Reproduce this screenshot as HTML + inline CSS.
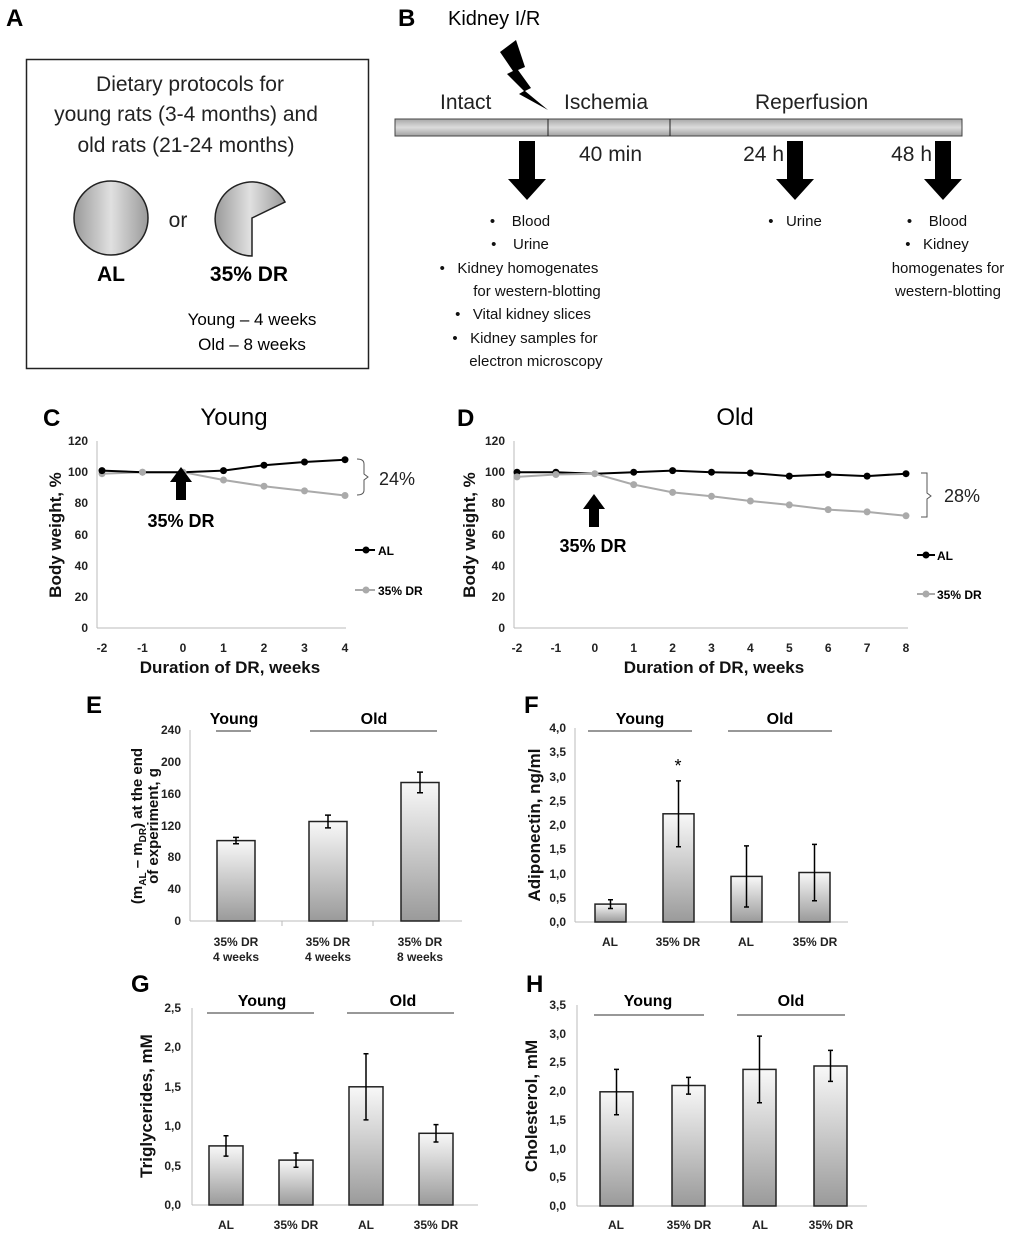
<!DOCTYPE html>
<html><head><meta charset="utf-8"><style>
html,body{margin:0;padding:0;background:#fff;}
svg{display:block;font-family:"Liberation Sans",sans-serif;}
.tk{font-size:12px;font-weight:bold;fill:#222;}
.ax{font-size:17px;font-weight:bold;fill:#111;}
.pl{font-size:24px;font-weight:bold;}
.gl{font-size:16px;font-weight:bold;}
.bl{font-size:15px;fill:#111;}
</style></head><body>
<svg width="1020" height="1235" viewBox="0 0 1020 1235" xmlns="http://www.w3.org/2000/svg">
<defs>
<linearGradient id="bar" x1="0" y1="0" x2="0" y2="1"><stop offset="0" stop-color="#f8f8f8"/><stop offset="1" stop-color="#9a9a9a"/></linearGradient>
<linearGradient id="tl" x1="0" y1="0" x2="0" y2="1"><stop offset="0" stop-color="#a8a8a8"/><stop offset="0.5" stop-color="#dcdcdc"/><stop offset="1" stop-color="#a0a0a0"/></linearGradient>
<linearGradient id="disc" x1="0" y1="0" x2="1" y2="0"><stop offset="0" stop-color="#9a9a9a"/><stop offset="0.5" stop-color="#e0e0e0"/><stop offset="1" stop-color="#9a9a9a"/></linearGradient>
</defs>

<!-- A -->
<text x="6" y="26" class="pl">A</text>
<rect x="26.5" y="59.5" width="342" height="309" fill="none" stroke="#222" stroke-width="1.5"/>
<g font-size="21" text-anchor="middle" fill="#222">
<text x="190" y="91">Dietary protocols for</text>
<text x="186" y="121">young rats (3-4 months) and</text>
<text x="186" y="152">old rats (21-24 months)</text>
<text x="178" y="227">or</text>
</g>
<circle cx="111" cy="218" r="37" fill="url(#disc)" stroke="#222" stroke-width="1.5"/>
<path d="M252,218 L285,202 A37,37 0 1,0 252,256 Z" fill="url(#disc)" stroke="#222" stroke-width="1.5"/>
<text x="111" y="281" text-anchor="middle" font-size="21" font-weight="bold">AL</text>
<text x="249" y="281" text-anchor="middle" font-size="21" font-weight="bold">35% DR</text>
<text x="252" y="325" text-anchor="middle" font-size="17">Young – 4 weeks</text>
<text x="252" y="350" text-anchor="middle" font-size="17">Old – 8 weeks</text>

<!-- B -->
<text x="398" y="26" class="pl">B</text>
<text x="448" y="25" font-size="20">Kidney I/R</text>
<polygon points="500,52 516,40 525,67 518,70 531,88 525,91 548,110 519,94 524,91 507,74 513,71" fill="#000"/>
<g font-size="21" fill="#222">
<text x="440" y="109">Intact</text>
<text x="564" y="109">Ischemia</text>
<text x="755" y="109">Reperfusion</text>
<text x="579" y="161">40 min</text>
<text x="784" y="161" text-anchor="end">24 h</text>
<text x="932" y="161" text-anchor="end">48 h</text>
</g>
<rect x="395" y="119" width="567" height="17" fill="url(#tl)" stroke="#444"/>
<line x1="548" y1="119" x2="548" y2="136" stroke="#222"/>
<line x1="670" y1="119" x2="670" y2="136" stroke="#222"/>
<g fill="#000">
<polygon points="519,141 535,141 535,179 546,179 527,200 508,179 519,179"/>
<polygon points="787,141 803,141 803,179 814,179 795,200 776,179 787,179"/>
<polygon points="935,141 951,141 951,179 962,179 943,200 924,179 935,179"/>
</g>
<g class="bl" text-anchor="middle">
<text x="520" y="226">•&#160;&#160;&#160;&#160;Blood</text>
<text x="520" y="249">•&#160;&#160;&#160;&#160;Urine</text>
<text x="519" y="273">•&#160;&#160;&#160;Kidney homogenates</text>
<text x="537" y="296">for western-blotting</text>
<text x="523" y="319">•&#160;&#160;&#160;Vital kidney slices</text>
<text x="525" y="343">•&#160;&#160;&#160;Kidney samples for</text>
<text x="536" y="366">electron microscopy</text>
<text x="795" y="226">•&#160;&#160;&#160;Urine</text>
<text x="937" y="226">•&#160;&#160;&#160;&#160;Blood</text>
<text x="937" y="249">•&#160;&#160;&#160;Kidney</text>
<text x="948" y="273">homogenates for</text>
<text x="948" y="296">western-blotting</text>
</g>

<!-- C -->
<text x="43" y="426" class="pl">C</text>
<text x="234" y="425" text-anchor="middle" font-size="24">Young</text>
<g stroke="#bbb" stroke-width="1">
<line x1="97" y1="441" x2="97" y2="628"/><line x1="97" y1="628" x2="346" y2="628"/>
</g>
<g class="tk" text-anchor="end">
<text x="88" y="632">0</text><text x="88" y="601">20</text><text x="88" y="570">40</text><text x="88" y="539">60</text><text x="88" y="507">80</text><text x="88" y="476">100</text><text x="88" y="445">120</text>
</g>
<g class="tk" text-anchor="middle">
<text x="102" y="652">-2</text><text x="142.5" y="652">-1</text><text x="183" y="652">0</text><text x="223.5" y="652">1</text><text x="264" y="652">2</text><text x="304.5" y="652">3</text><text x="345" y="652">4</text>
</g>
<text x="230" y="673" text-anchor="middle" class="ax">Duration of DR, weeks</text>
<text transform="translate(61,535) rotate(-90)" text-anchor="middle" class="ax">Body weight, %</text>
<polyline points="102,473.7 142.5,472.2 183,472.2 223.5,480 264,486.2 304.5,490.9 345,495.5" fill="none" stroke="#aaa" stroke-width="2"/>
<g fill="#aaa"><circle cx="102" cy="473.7" r="3.5"/><circle cx="142.5" cy="472.2" r="3.5"/><circle cx="223.5" cy="480" r="3.5"/><circle cx="264" cy="486.2" r="3.5"/><circle cx="304.5" cy="490.9" r="3.5"/><circle cx="345" cy="495.5" r="3.5"/></g>
<polyline points="102,470.6 142.5,472.2 183,472.2 223.5,470.6 264,465.2 304.5,462 345,459.7" fill="none" stroke="#000" stroke-width="2"/>
<g fill="#000"><circle cx="102" cy="470.6" r="3.5"/><circle cx="223.5" cy="470.6" r="3.5"/><circle cx="264" cy="465.2" r="3.5"/><circle cx="304.5" cy="462" r="3.5"/><circle cx="345" cy="459.7" r="3.5"/></g>
<circle cx="183" cy="472.2" r="3.5" fill="#aaa"/><circle cx="142.5" cy="472.2" r="3.5" fill="#aaa"/>
<polygon points="176,500 186,500 186,482 192,482 181,467 170,482 176,482" fill="#000"/>
<text x="181" y="527" text-anchor="middle" font-size="18" font-weight="bold">35% DR</text>
<line x1="355" y1="550" x2="375" y2="550" stroke="#000" stroke-width="2"/><circle cx="366" cy="550" r="3.5"/>
<text x="378" y="555" font-size="12" font-weight="bold">AL</text>
<line x1="355" y1="590" x2="375" y2="590" stroke="#aaa" stroke-width="2"/><circle cx="366" cy="590" r="3.5" fill="#aaa"/>
<text x="378" y="595" font-size="12" font-weight="bold">35% DR</text>
<path d="M357,459 Q364,459 364,464 L364,474 L368,477 L364,480 L364,490 Q364,495 357,495" fill="none" stroke="#555" stroke-width="1"/>
<text x="379" y="485" font-size="18" fill="#222">24%</text>

<!-- D -->
<text x="457" y="426" class="pl">D</text>
<text x="735" y="425" text-anchor="middle" font-size="24">Old</text>
<g stroke="#bbb"><line x1="514" y1="441" x2="514" y2="628"/><line x1="514" y1="628" x2="908" y2="628"/></g>
<g class="tk" text-anchor="end">
<text x="505" y="632">0</text><text x="505" y="601">20</text><text x="505" y="570">40</text><text x="505" y="539">60</text><text x="505" y="507">80</text><text x="505" y="476">100</text><text x="505" y="445">120</text>
</g>
<g class="tk" text-anchor="middle">
<text x="517" y="652">-2</text><text x="555.9" y="652">-1</text><text x="594.8" y="652">0</text><text x="633.7" y="652">1</text><text x="672.6" y="652">2</text><text x="711.5" y="652">3</text><text x="750.4" y="652">4</text><text x="789.3" y="652">5</text><text x="828.2" y="652">6</text><text x="867.1" y="652">7</text><text x="906" y="652">8</text>
</g>
<text x="714" y="673" text-anchor="middle" class="ax">Duration of DR, weeks</text>
<text transform="translate(475,535) rotate(-90)" text-anchor="middle" class="ax">Body weight, %</text>
<polyline points="517,472.2 555.9,472.2 594.8,473.7 633.7,472.2 672.6,470.6 711.5,472.2 750.4,473 789.3,476.1 828.2,474.5 867.1,476.1 906,473.7" fill="none" stroke="#000" stroke-width="2"/>
<g><circle cx="517" cy="472.2" r="3.5"/><circle cx="555.9" cy="472.2" r="3.5"/><circle cx="633.7" cy="472.2" r="3.5"/><circle cx="672.6" cy="470.6" r="3.5"/><circle cx="711.5" cy="472.2" r="3.5"/><circle cx="750.4" cy="473" r="3.5"/><circle cx="789.3" cy="476.1" r="3.5"/><circle cx="828.2" cy="474.5" r="3.5"/><circle cx="867.1" cy="476.1" r="3.5"/><circle cx="906" cy="473.7" r="3.5"/></g>
<polyline points="517,476.9 555.9,474.5 594.8,473.7 633.7,484.6 672.6,492.4 711.5,496.3 750.4,501 789.3,504.9 828.2,509.6 867.1,511.9 906,515.8" fill="none" stroke="#aaa" stroke-width="2"/>
<g fill="#aaa"><circle cx="517" cy="476.9" r="3.5"/><circle cx="555.9" cy="474.5" r="3.5"/><circle cx="594.8" cy="473.7" r="3.5"/><circle cx="633.7" cy="484.6" r="3.5"/><circle cx="672.6" cy="492.4" r="3.5"/><circle cx="711.5" cy="496.3" r="3.5"/><circle cx="750.4" cy="501" r="3.5"/><circle cx="789.3" cy="504.9" r="3.5"/><circle cx="828.2" cy="509.6" r="3.5"/><circle cx="867.1" cy="511.9" r="3.5"/><circle cx="906" cy="515.8" r="3.5"/></g>
<polygon points="589,527 599,527 599,509 605,509 594,494 583,509 589,509" fill="#000"/>
<text x="593" y="552" text-anchor="middle" font-size="18" font-weight="bold">35% DR</text>
<line x1="917" y1="555" x2="935" y2="555" stroke="#000" stroke-width="2"/><circle cx="926" cy="555" r="3.5"/>
<text x="937" y="560" font-size="12" font-weight="bold">AL</text>
<line x1="917" y1="594" x2="935" y2="594" stroke="#aaa" stroke-width="2"/><circle cx="926" cy="594" r="3.5" fill="#aaa"/>
<text x="937" y="599" font-size="12" font-weight="bold">35% DR</text>
<path d="M921,473 L927,473 L927,493 L931,496 L927,499 L927,517 L921,517" fill="none" stroke="#555"/>
<text x="944" y="502" font-size="18" fill="#222">28%</text>

<!-- E -->
<text x="86" y="713" class="pl">E</text>
<g stroke="#bbb"><line x1="190" y1="730" x2="190" y2="921"/><line x1="190" y1="921" x2="462" y2="921"/><line x1="282" y1="921" x2="282" y2="926"/><line x1="373" y1="921" x2="373" y2="926"/></g>
<g class="tk" text-anchor="end">
<text x="181" y="925">0</text><text x="181" y="893">40</text><text x="181" y="861">80</text><text x="181" y="830">120</text><text x="181" y="798">160</text><text x="181" y="766">200</text><text x="181" y="734">240</text>
</g>
<text x="234" y="724" text-anchor="middle" class="gl">Young</text>
<text x="374" y="724" text-anchor="middle" class="gl">Old</text>
<line x1="216" y1="731" x2="251" y2="731" stroke="#777" stroke-width="1.5"/>
<line x1="310" y1="731" x2="437" y2="731" stroke="#777" stroke-width="1.5"/>
<g fill="url(#bar)" stroke="#222" stroke-width="1.5">
<rect x="217" y="840.6" width="38" height="80.4"/><rect x="309" y="821.5" width="38" height="99.5"/><rect x="401" y="782.5" width="38" height="138.5"/>
</g>
<g stroke="#000" stroke-width="1.5">
<path d="M236,837.4V843.8M233,837.4H239M233,843.8H239"/>
<path d="M328,815.1V827.9M325,815.1H331M325,827.9H331"/>
<path d="M420,772.1V792.8M417,772.1H423M417,792.8H423"/>
</g>
<g class="tk" text-anchor="middle">
<text x="236" y="946">35% DR</text><text x="236" y="961">4 weeks</text>
<text x="328" y="946">35% DR</text><text x="328" y="961">4 weeks</text>
<text x="420" y="946">35% DR</text><text x="420" y="961">8 weeks</text>
</g>
<text transform="translate(142,826) rotate(-90)" text-anchor="middle" font-size="15" font-weight="bold" fill="#111">(m<tspan font-size="10" dy="4">AL</tspan><tspan dy="-4"> – m</tspan><tspan font-size="10" dy="4">DR</tspan><tspan dy="-4">) at the end</tspan></text>
<text transform="translate(158,826) rotate(-90)" text-anchor="middle" font-size="15" font-weight="bold" fill="#111">of experiment, g</text>

<!-- F -->
<text x="524" y="713" class="pl">F</text>
<g stroke="#bbb"><line x1="575" y1="728" x2="575" y2="922"/><line x1="575" y1="922" x2="848" y2="922"/></g>
<g class="tk" text-anchor="end">
<text x="566" y="926">0,0</text><text x="566" y="902">0,5</text><text x="566" y="878">1,0</text><text x="566" y="853">1,5</text><text x="566" y="829">2,0</text><text x="566" y="805">2,5</text><text x="566" y="781">3,0</text><text x="566" y="756">3,5</text><text x="566" y="732">4,0</text>
</g>
<text x="640" y="724" text-anchor="middle" class="gl">Young</text>
<text x="780" y="724" text-anchor="middle" class="gl">Old</text>
<line x1="588" y1="731" x2="692" y2="731" stroke="#777" stroke-width="1.5"/>
<line x1="728" y1="731" x2="832" y2="731" stroke="#777" stroke-width="1.5"/>
<g fill="url(#bar)" stroke="#222" stroke-width="1.5">
<rect x="595" y="904.1" width="31" height="17.9"/><rect x="663" y="813.8" width="31" height="108.2"/><rect x="731" y="876.4" width="31" height="45.6"/><rect x="799" y="872.5" width="31" height="49.5"/>
</g>
<g stroke="#000" stroke-width="1.5">
<path d="M610.5,899.7V908.5M608,899.7H613M608,908.5H613"/>
<path d="M678.5,780.9V846.8M676,780.9H681M676,846.8H681"/>
<path d="M746.5,845.9V907M744,845.9H749M744,907H749"/>
<path d="M814.5,844.4V900.7M812,844.4H817M812,900.7H817"/>
</g>
<text x="678" y="772" text-anchor="middle" font-size="18">*</text>
<g class="tk" text-anchor="middle">
<text x="610" y="946">AL</text><text x="678" y="946">35% DR</text><text x="746" y="946">AL</text><text x="815" y="946">35% DR</text>
</g>
<text transform="translate(540,825) rotate(-90)" text-anchor="middle" class="ax">Adiponectin, ng/ml</text>

<!-- G -->
<text x="131" y="992" class="pl">G</text>
<g stroke="#bbb"><line x1="192" y1="1008" x2="192" y2="1205"/><line x1="192" y1="1205" x2="478" y2="1205"/></g>
<g class="tk" text-anchor="end">
<text x="181" y="1209">0,0</text><text x="181" y="1170">0,5</text><text x="181" y="1130">1,0</text><text x="181" y="1091">1,5</text><text x="181" y="1051">2,0</text><text x="181" y="1012">2,5</text>
</g>
<text x="262" y="1006" text-anchor="middle" class="gl">Young</text>
<text x="403" y="1006" text-anchor="middle" class="gl">Old</text>
<line x1="207" y1="1013" x2="314" y2="1013" stroke="#777" stroke-width="1.5"/>
<line x1="347" y1="1013" x2="454" y2="1013" stroke="#777" stroke-width="1.5"/>
<g fill="url(#bar)" stroke="#222" stroke-width="1.5">
<rect x="209" y="1145.9" width="34" height="59.1"/><rect x="279" y="1160.1" width="34" height="44.9"/><rect x="349" y="1086.8" width="34" height="118.2"/><rect x="419" y="1133.3" width="34" height="71.7"/>
</g>
<g stroke="#000" stroke-width="1.5">
<path d="M226,1135.7V1156.1M223.5,1135.7H228.5M223.5,1156.1H228.5"/>
<path d="M296,1153V1167.2M293.5,1153H298.5M293.5,1167.2H298.5"/>
<path d="M366,1053.7V1119.9M363.5,1053.7H368.5M363.5,1119.9H368.5"/>
<path d="M436,1124.6V1142M433.5,1124.6H438.5M433.5,1142H438.5"/>
</g>
<g class="tk" text-anchor="middle">
<text x="226" y="1229">AL</text><text x="296" y="1229">35% DR</text><text x="366" y="1229">AL</text><text x="436" y="1229">35% DR</text>
</g>
<text transform="translate(152,1106) rotate(-90)" text-anchor="middle" class="ax">Triglycerides, mM</text>

<!-- H -->
<text x="526" y="992" class="pl">H</text>
<g stroke="#bbb"><line x1="577" y1="1005" x2="577" y2="1206"/><line x1="577" y1="1206" x2="867" y2="1206"/></g>
<g class="tk" text-anchor="end">
<text x="566" y="1210">0,0</text><text x="566" y="1181">0,5</text><text x="566" y="1153">1,0</text><text x="566" y="1124">1,5</text><text x="566" y="1095">2,0</text><text x="566" y="1066">2,5</text><text x="566" y="1038">3,0</text><text x="566" y="1009">3,5</text>
</g>
<text x="648" y="1006" text-anchor="middle" class="gl">Young</text>
<text x="791" y="1006" text-anchor="middle" class="gl">Old</text>
<line x1="594" y1="1015" x2="704" y2="1015" stroke="#777" stroke-width="1.5"/>
<line x1="737" y1="1015" x2="845" y2="1015" stroke="#777" stroke-width="1.5"/>
<g fill="url(#bar)" stroke="#222" stroke-width="1.5">
<rect x="600" y="1091.8" width="33" height="114.2"/><rect x="672" y="1085.5" width="33" height="120.5"/><rect x="743" y="1069.4" width="33" height="136.6"/><rect x="814" y="1066" width="33" height="140"/>
</g>
<g stroke="#000" stroke-width="1.5">
<path d="M616.5,1069.4V1114.7M614,1069.4H619M614,1114.7H619"/>
<path d="M688.5,1077.4V1094.1M686,1077.4H691M686,1094.1H691"/>
<path d="M759.5,1036.1V1102.7M757,1036.1H762M757,1102.7H762"/>
<path d="M830.5,1050.4V1081.4M828,1050.4H833M828,1081.4H833"/>
</g>
<g class="tk" text-anchor="middle">
<text x="616" y="1229">AL</text><text x="689" y="1229">35% DR</text><text x="760" y="1229">AL</text><text x="831" y="1229">35% DR</text>
</g>
<text transform="translate(537,1106) rotate(-90)" text-anchor="middle" class="ax">Cholesterol, mM</text>
</svg>
</body></html>
